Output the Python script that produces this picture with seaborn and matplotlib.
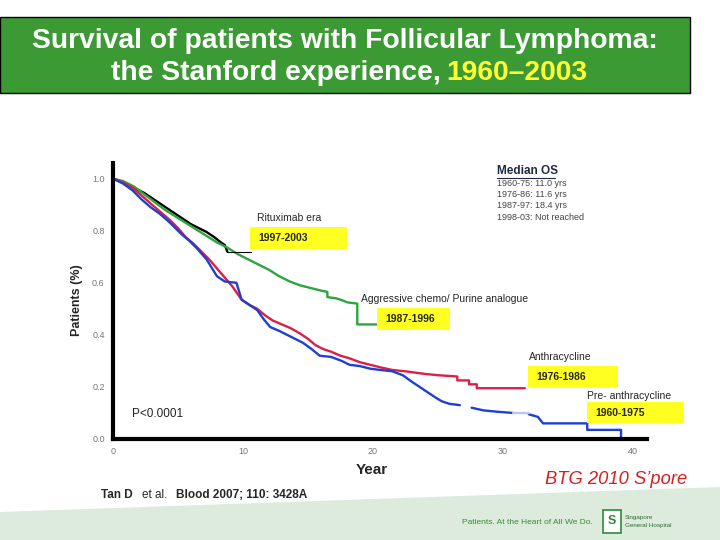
import numpy as np
import pandas as pd
import matplotlib
matplotlib.use("Agg")
import matplotlib.pyplot as plt
import seaborn as sns
from matplotlib.patches import Rectangle, Polygon

# Kaplan-Meier curves (years, survival fraction)
t_9703 = [0, 0.6, 1.2, 1.8, 2.4, 3.0, 3.6, 4.2, 4.8, 5.4, 6.0, 6.6, 7.2, 7.8, 8.3, 8.6, 8.8]
s_9703 = [1.0, 0.99, 0.975, 0.96, 0.945, 0.925, 0.905, 0.885, 0.865, 0.845, 0.825, 0.81, 0.795, 0.775, 0.755, 0.745, 0.72]

t_8796 = [0, 0.8, 1.6, 2.4, 3.2, 4.0, 4.8, 5.6, 6.4, 7.2, 8.0, 8.8, 9.6, 10.4, 11.2, 12.0, 12.8,
          13.6, 14.4, 15.2, 16.0, 16.5, 16.5, 17.2, 17.8, 18.0, 18.8, 18.8, 20.3]
s_8796 = [1.0, 0.99, 0.97, 0.94, 0.91, 0.88, 0.855, 0.83, 0.805, 0.78, 0.755, 0.735, 0.71, 0.69,
          0.67, 0.65, 0.625, 0.605, 0.59, 0.58, 0.57, 0.565, 0.545, 0.54, 0.53, 0.525, 0.52, 0.44, 0.44]

t_7686 = [0, 0.8, 1.5, 2.2, 3.0, 3.7, 4.4, 5.0, 5.6, 6.2, 6.8, 7.4, 8.0, 8.6, 9.2, 9.9, 10.5, 11.1,
          11.7, 12.3, 13.0, 13.7, 14.4, 15.0, 15.6, 16.2, 16.8, 17.5, 18.2, 19.0, 19.8, 20.6, 21.5,
          22.5, 24.0, 25.0, 26.5, 26.5, 27.4, 27.4, 28.0, 28.0, 31.7]
s_7686 = [1.0, 0.985, 0.965, 0.935, 0.9, 0.87, 0.84, 0.81, 0.775, 0.75, 0.72, 0.69, 0.655, 0.62,
          0.585, 0.535, 0.515, 0.5, 0.475, 0.455, 0.44, 0.425, 0.405, 0.385, 0.36, 0.345, 0.335,
          0.32, 0.31, 0.295, 0.285, 0.275, 0.265, 0.26, 0.25, 0.245, 0.24, 0.225, 0.225, 0.21,
          0.21, 0.195, 0.195]

t_6075a = [0, 0.8, 1.5, 2.2, 2.9, 3.6, 4.4, 5.2, 5.9, 6.5, 7.2, 8.0, 8.6, 9.5, 9.9, 10.5, 11.1,
           11.6, 12.1, 12.8, 13.6, 14.6, 15.3, 15.9, 16.8, 17.6, 18.2, 19.0, 19.8, 20.6, 21.5,
           22.3, 23.0, 23.6, 24.2, 24.8, 25.3, 25.9, 26.7]
s_6075a = [1.0, 0.98, 0.955, 0.92, 0.89, 0.865, 0.83, 0.79, 0.76, 0.73, 0.69, 0.625, 0.605, 0.6,
           0.535, 0.515, 0.495, 0.46, 0.43, 0.415, 0.395, 0.37, 0.345, 0.32, 0.315, 0.3, 0.285,
           0.28, 0.27, 0.265, 0.26, 0.245, 0.22, 0.2, 0.18, 0.16, 0.145, 0.135, 0.13]
t_6075b = [27.6, 28.5, 29.5, 30.8]
s_6075b = [0.12, 0.11, 0.105, 0.10]
t_6075gap = [30.8, 32.0]
s_6075gap = [0.10, 0.10]
t_6075c = [32.0, 32.7, 33.1, 36.5, 36.5, 39.1, 39.1]
s_6075c = [0.095, 0.085, 0.06, 0.06, 0.035, 0.035, 0.0]

median_os = ["1960-75: 11.0 yrs", "1976-86: 11.6 yrs", "1987-97: 18.4 yrs", "1998-03: Not reached"]

pieces = [
    ("1997-2003", "a", t_9703, s_9703),
    ("1987-1996", "b", t_8796, s_8796),
    ("1976-1986", "c", t_7686, s_7686),
    ("1960-1975", "d", t_6075a, s_6075a),
    ("1960-1975", "e", t_6075b, s_6075b),
    ("gap", "f", t_6075gap, s_6075gap),
    ("1960-1975", "g", t_6075c, s_6075c),
]
df = pd.concat([pd.DataFrame({"era": e, "seg": g, "year": t, "surv": s}) for e, g, t, s in pieces],
               ignore_index=True)
palette = {"1997-2003": "black", "1987-1996": "#2aa63a", "1976-1986": "#dc1e48",
           "1960-1975": "#1e3fd0", "gap": "#b9c8ef"}

sns.set_style("white")
plt.rcParams["font.family"] = ["Liberation Sans", "DejaVu Sans"]

W, H = 720, 540
fig = plt.figure(figsize=(7.2, 5.4), dpi=100)


def fx(x):
    return x / W


def fy(y):
    return 1 - y / H


# bottom green band
fig.patches.append(Polygon([(0, fy(512)), (1, fy(487)), (1, 0), (0, 0)], closed=True,
                           transform=fig.transFigure, facecolor="#dcebdc", edgecolor="none", zorder=0))

# title bar
fig.patches.append(Rectangle((0, fy(93)), fx(690), fy(17) - fy(93), transform=fig.transFigure,
                             facecolor="#3c9a34", edgecolor="black", lw=1, zorder=1))
fig.text(fx(345), fy(41), "Survival of patients with Follicular Lymphoma:", ha="center", va="center",
         color="white", fontsize=20.3, fontweight="bold")
fig.text(fx(441), fy(73), "the Stanford experience,", ha="right", va="center",
         color="white", fontsize=20.3, fontweight="bold")
fig.text(fx(446), fy(73), "1960\u20132003", ha="left", va="center",
         color="#ffff33", fontsize=20.3, fontweight="bold")

# survival plot
ax = fig.add_axes([fx(113), fy(439), fx(647) - fx(113), fy(163) - fy(439)])
sns.lineplot(data=df, x="year", y="surv", hue="era", units="seg", estimator=None, sort=False,
             palette=palette, lw=1.7, legend=False, ax=ax)
ax.plot([t_9703[-1], 10.6], [s_9703[-1], s_9703[-1]], color="black", lw=0.8)
ax.set_xlim(0, 41.1)
ax.set_ylim(0, 1.06)
ax.set_xticks([0, 10, 20, 30, 40])
ax.set_yticks([0.0, 0.2, 0.4, 0.6, 0.8, 1.0])
ax.set_yticklabels(["0.0", "0.2", "0.4", "0.6", "0.8", "1.0"])
ax.tick_params(axis="both", direction="out", length=4, width=1, colors="#777777", labelsize=6.5, pad=2)
for side in ["top", "right"]:
    ax.spines[side].set_visible(False)
for side in ["left", "bottom"]:
    ax.spines[side].set_linewidth(3)
    ax.spines[side].set_color("black")
ax.set_xlabel("")
ax.set_ylabel("")
ax.patch.set_alpha(0)

fig.text(fx(77), fy(300), "Patients (%)", rotation=90, ha="center", va="center",
         fontsize=9, fontweight="bold")
fig.text(fx(372), fy(470), "Year", ha="center", va="center", fontsize=11, fontweight="bold")
fig.text(fx(132), fy(414), "P<0.0001", ha="left", va="center", fontsize=8.5, color="#222222")

# era labels with yellow boxes
labels = [
    ("Rituximab era", 257, 218, "1997-2003", 250, 227, 347, 249),
    ("Aggressive chemo/ Purine analogue", 361, 299, "1987-1996", 377, 308, 450, 330),
    ("Anthracycline", 529, 357, "1976-1986", 528, 366, 618, 387),
    ("Pre- anthracycline", 587, 396, "1960-1975", 587, 402, 684, 423),
]
for txt, tx, ty, era, x0, y0, x1, y1 in labels:
    fig.text(fx(tx), fy(ty), txt, ha="left", va="center", fontsize=7.5)
    fig.patches.append(Rectangle((fx(x0), fy(y1)), fx(x1) - fx(x0), fy(y0) - fy(y1),
                                 transform=fig.transFigure, facecolor="#ffff22", edgecolor="none", zorder=2))
    fig.text(fx(x0 + 8), fy((y0 + y1) / 2), era, ha="left", va="center", fontsize=7.5,
             fontweight="bold", zorder=3)

# median OS block
fig.text(fx(497), fy(171), "Median OS", ha="left", va="center", fontsize=8.5, fontweight="bold",
         color="#1f2a44")
fig.lines.append(plt.Line2D([fx(497), fx(555)], [fy(178), fy(178)], transform=fig.transFigure,
                            color="#1f2a44", lw=0.8))
for i, line in enumerate(median_os):
    fig.text(fx(497), fy(183 + i * 11.5), line, ha="left", va="center", fontsize=6.5, color="#444444")

# footer
fig.text(fx(101), fy(495), "Tan D", ha="left", va="center", fontsize=8.5, fontweight="bold")
fig.text(fx(142), fy(495), "et al.", ha="left", va="center", fontsize=8.5)
fig.text(fx(176), fy(495), "Blood 2007; 110: 3428A", ha="left", va="center", fontsize=8.5, fontweight="bold")
fig.text(fx(687), fy(479), "BTG 2010 S\u2019pore", ha="right", va="center", fontsize=13.2,
         style="italic", color="#d42020")
fig.text(fx(593), fy(522), "Patients. At the Heart of All We Do.", ha="right", va="center",
         fontsize=6, color="#3a8a3a")
fig.patches.append(Rectangle((fx(603), fy(533)), fx(18), fy(510) - fy(533), transform=fig.transFigure,
                             facecolor="white", edgecolor="#2f8a3a", lw=1.2, zorder=2))
fig.text(fx(612), fy(521.5), "S", ha="center", va="center", fontsize=9, fontweight="bold",
         color="#2f8a3a", zorder=3)
fig.text(fx(625), fy(517), "Singapore", ha="left", va="center", fontsize=4.5, color="#2f6a3a")
fig.text(fx(625), fy(525), "General Hospital", ha="left", va="center", fontsize=4.5, color="#2f6a3a")

fig.savefig("out.png", dpi=100)
